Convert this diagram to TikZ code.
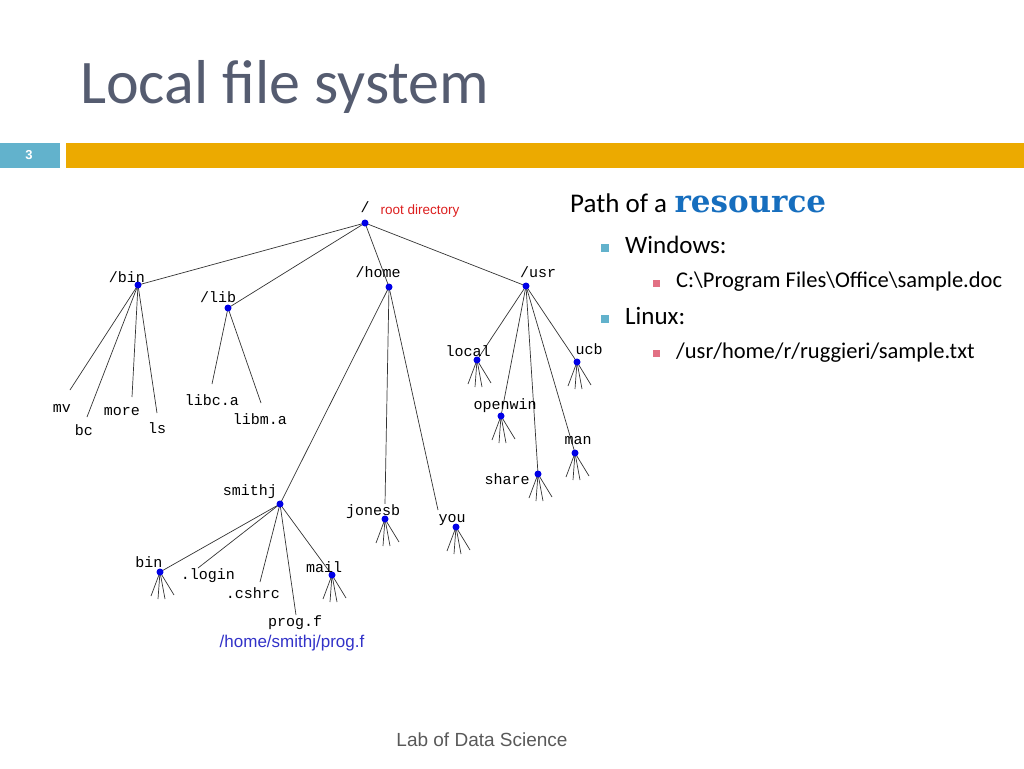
\documentclass[tikz,border=0pt]{standalone}
\usepackage{fontspec}
\setmainfont{Carlito}
\newfontfamily\treefont{Liberation Mono}
\newfontfamily\arialfont{Liberation Sans}
\newfontfamily\resfont{DejaVu Serif}
\usetikzlibrary{calc}
\usetikzlibrary{backgrounds}
\usetikzlibrary{positioning}

\definecolor{titlegray}{RGB}{85,92,112}
\definecolor{slideteal}{RGB}{98,178,204}
\definecolor{slideorange}{RGB}{236,170,0}
\definecolor{bulletpink}{RGB}{226,112,132}
\definecolor{resblue}{RGB}{22,110,190}
\definecolor{rootred}{RGB}{220,30,30}
\definecolor{pathblue}{RGB}{50,50,200}
\definecolor{dotblue}{RGB}{0,0,230}

\tikzset{
	dirdot/.style={
		circle,
		fill=dotblue,
		inner sep=0mm,
		minimum size=7pt
	},
	fname/.style={
		font=\treefont\fontsize{15}{15}\selectfont,
		inner sep=1pt
	},
	link/.style={
		draw=black!80,
		line width=0.7pt
	},
	fan/.pic = {
		\foreach \dx/\dy in {-9/24,-2/27,5/27,14/23}
			\draw[link] (0,0) -- (\dx,\dy);
	}
}

\begin{document}
\begin{tikzpicture}[
		x=1pt, y=-1pt,
	]

	% The slide is 1024 x 768
	\useasboundingbox (0,0) rectangle (1024,768);

	% Draw the title and the bar
	\node (title) [anchor=base west, inner sep=0mm, text=titlegray,
		font=\fontsize{62}{70}\selectfont] at (80,103) {Local file system};
	\fill[slideteal] (0,143) rectangle (60,168);
	\fill[slideorange] (66,143) rectangle (1024,168);
	\node (page) [text=white, font=\arialfont\bfseries\fontsize{13}{13}\selectfont] at (29,155) {3};

	% Draw the directories
	\node[dirdot] (root) at (365,223) {};
	\node[dirdot] (bin) at (138,285) {};
	\node[dirdot] (lib) at (228,308) {};
	\node[dirdot] (home) at (389,287) {};
	\node[dirdot] (usr) at (526,286) {};
	\node[dirdot] (local) at (477,360) {};
	\node[dirdot] (ucb) at (577,362) {};
	\node[dirdot] (openwin) at (501,416) {};
	\node[dirdot] (man) at (575,453) {};
	\node[dirdot] (share) at (538,474) {};
	\node[dirdot] (smithj) at (280,504) {};
	\node[dirdot] (jonesb) at (385,519) {};
	\node[dirdot] (you) at (456,527) {};
	\node[dirdot] (sbin) at (160,572) {};
	\node[dirdot] (mail) at (332,575) {};

	% Names of the files and directories
	\node[fname] (rootname) at (365,207) {/};
	\node (rootnote) [text=rootred, inner sep=0mm,
		font=\arialfont\fontsize{13.5}{13.5}\selectfont] at (420,211) {root directory};
	\node[fname] (binname) at (127,277) {/bin};
	\node[fname] (libname) at (218,297) {/lib};
	\node[fname] (homename) at (378,272) {/home};
	\node[fname] (usrname) at (538,272) {/usr};
	\node[fname] (mv) at (62,408) {mv};
	\node[fname] (bc) at (84,430) {bc};
	\node[fname] (more) at (122,412) {more};
	\node[fname] (ls) at (157,428) {ls};
	\node[fname] (libc) at (212,400) {libc.a};
	\node[fname] (libm) at (260,419) {libm.a};
	\node[fname] (localname) at (468,351) {local};
	\node[fname] (ucbname) at (589,349) {ucb};
	\node[fname] (openwinname) at (505,406) {openwin};
	\node[fname] (manname) at (578,441) {man};
	\node[fname] (sharename) at (507,479) {share};
	\node[fname] (smithjname) at (250,492) {smithj};
	\node[fname] (jonesbname) at (373,512) {jonesb};
	\node[fname] (youname) at (452,520) {you};
	\node[fname] (sbinname) at (149,562) {bin};
	\node[fname] (login) at (208,576) {.login};
	\node[fname] (cshrc) at (253,593) {.cshrc};
	\node[fname] (mailname) at (324,567) {mail};
	\node[fname] (progf) at (295,623) {prog.f};
	\node (progpath) [text=pathblue, inner sep=0mm,
		font=\arialfont\fontsize{17}{17}\selectfont] at (292,643) {/home/smithj/prog.f};

	% Free ends of the leaf links
	\coordinate (mvend) at (70,390);
	\coordinate (bcend) at (87,417);
	\coordinate (moreend) at (132,397);
	\coordinate (lsend) at (157,413);
	\coordinate (libcend) at (212,384);
	\coordinate (libmend) at (261,403);
	\coordinate (loginend) at (198,568);
	\coordinate (cshrcend) at (260,582);
	\coordinate (progfend) at (296,615);
	\coordinate (youend) at (438,510);

	% Draw the links behind the dots
	\begin{scope}[on background layer]
		\draw[link] (root.center) -- (bin.center);
		\draw[link] (root.center) -- (lib.center);
		\draw[link] (root.center) -- (home.center);
		\draw[link] (root.center) -- (usr.center);

		\foreach \f in {mvend,bcend,moreend,lsend}
			\draw[link] (bin.center) -- (\f);
		\draw[link] (lib.center) -- (libcend);
		\draw[link] (lib.center) -- (libmend);

		\draw[link] (home.center) -- (smithj.center);
		\draw[link] (home.center) -- (jonesbname.north -| jonesb);
		\draw[link] (home.center) -- (youend);

		\foreach \d in {local,openwin,share,man,ucb}
			\draw[link] (usr.center) -- (\d.center);

		\draw[link] (smithj.center) -- (sbin.center);
		\draw[link] (smithj.center) -- (loginend);
		\draw[link] (smithj.center) -- (cshrcend);
		\draw[link] (smithj.center) -- (progfend);
		\draw[link] (smithj.center) -- (mail.center);

		\foreach \d in {local,ucb,openwin,man,share,jonesb,you,sbin,mail}
			\pic at (\d) {fan};
	\end{scope}

	% The paths on the right
	\node (pathof) [anchor=base west, inner sep=0mm,
		font=\fontsize{27}{27}\selectfont] at (570,212) {Path of a};
	\node (resource) [inner sep=0mm, text=resblue,
		font=\resfont\bfseries\fontsize{31}{31}\selectfont,
		right=7pt of pathof.base east, anchor=base west] {resource};

	\fill[slideteal] (601,244) rectangle (609,252);
	\node (windows) [anchor=base west, inner sep=0mm,
		font=\fontsize{25}{25}\selectfont] at (625,253) {Windows:};
	\fill[bulletpink] (653,280) rectangle (660,287);
	\node (winpath) [anchor=base west, inner sep=0mm,
		font=\fontsize{22.5}{22.5}\selectfont] at (676,287)
		{C:\textbackslash Program Files\textbackslash Office\textbackslash sample.doc};

	\fill[slideteal] (601,315) rectangle (609,323);
	\node (linux) [anchor=base west, inner sep=0mm,
		font=\fontsize{25}{25}\selectfont] at (625,324) {Linux:};
	\fill[bulletpink] (653,350) rectangle (660,357);
	\node (linuxpath) [anchor=base west, inner sep=0mm,
		font=\fontsize{22.5}{22.5}\selectfont] at (676,358)
		{/usr/home/r/ruggieri/sample.txt};

	% Footer
	\node (footer) [text=black!65, font=\arialfont\fontsize{19}{19}\selectfont]
		at (482,740) {Lab of Data Science};

\end{tikzpicture}
\end{document}
